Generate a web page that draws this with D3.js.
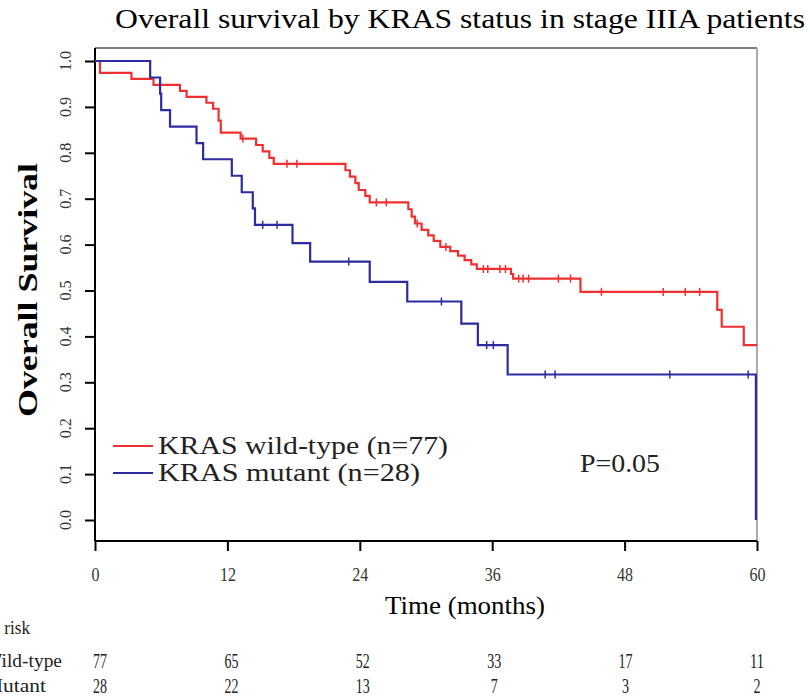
<!DOCTYPE html>
<html>
<head>
<meta charset="UTF-8">
<script src="https://d3js.org/d3.v7.min.js"></script>
<style>
  body { margin: 0; background: #fff; }
  svg { display: block; font-family: "Liberation Serif", "DejaVu Serif", serif; }
</style>
</head>
<body>
<svg width="810" height="699"></svg>
<script>
// KRAS wild-type (n=77): step times (months) and survival after each step
const wtTime = [0, 0.45, 3.3, 5.3, 7.7, 8.3, 10.1, 10.7, 11.2, 11.4, 13.2, 14.6, 15.2, 15.8, 16.2,
  22.7, 23.1, 23.6, 23.9, 24.5, 24.9, 28.4, 28.7, 29.0, 29.6, 30.2, 30.7, 31.3, 32.2, 32.9,
  33.5, 34.1, 34.6, 37.7, 37.9, 44.0, 56.4, 56.8, 58.8, 60];
const wtSurv = [1, 0.974, 0.961, 0.948, 0.935, 0.922, 0.909, 0.896, 0.870, 0.844, 0.831, 0.817, 0.803, 0.789, 0.776,
  0.762, 0.748, 0.734, 0.719, 0.706, 0.692, 0.677, 0.661, 0.646, 0.632, 0.620, 0.608, 0.595, 0.586, 0.576,
  0.566, 0.557, 0.547, 0.536, 0.526, 0.497, 0.458, 0.421, 0.381, 0.381];
const wtCensor = [13.4, 17.4, 18.3, 25.5, 26.4, 29.2, 31.8, 35.2, 35.6, 36.7, 37.2, 38.4, 38.8, 39.3,
  42.0, 43.1, 45.9, 51.5, 53.5, 54.8];

// KRAS mutant (n=28)
const mutTime = [0, 5.0, 5.9, 6.0, 6.8, 9.2, 9.8, 12.4, 13.3, 14.3, 14.5, 17.9, 19.5, 24.9, 28.3, 33.2, 34.7, 37.4, 59.9];
const mutSurv = [1, 0.964, 0.929, 0.893, 0.857, 0.821, 0.786, 0.750, 0.714, 0.679, 0.643, 0.603, 0.563, 0.519, 0.476, 0.428, 0.381, 0.317, 0];
const mutCensor = [15.2, 16.5, 23.0, 31.4, 35.5, 36.1, 40.8, 41.7, 52.1, 59.2];

// axes and risk table
const xTicks = [0, 12, 24, 36, 48, 60];
const yTicks = [0, 0.1, 0.2, 0.3, 0.4, 0.5, 0.6, 0.7, 0.8, 0.9, 1.0];
const riskWild = [77, 65, 52, 33, 17, 11];
const riskMut = [28, 22, 13, 7, 3, 2];

const svg = d3.select("svg");
const x = d3.scaleLinear().domain([0, 60]).range([95, 757]);
const y = d3.scaleLinear().domain([0, 1]).range([520, 61]);
const RED = "#f03030", BLUE = "#2c2ca0";

// title
svg.append("text")
  .attr("x", 460).attr("y", 28)
  .attr("text-anchor", "middle")
  .attr("font-size", 28)
  .attr("textLength", 690).attr("lengthAdjust", "spacingAndGlyphs")
  .text("Overall survival by KRAS status in stage IIIA patients");

// box
svg.append("line").attr("x1", 95).attr("x2", 757).attr("y1", 48).attr("y2", 48)
  .attr("stroke", "#555").attr("stroke-width", 1.5);
svg.append("line").attr("x1", 757).attr("x2", 757).attr("y1", 48).attr("y2", 541)
  .attr("stroke", "#aaa").attr("stroke-width", 2);

// y axis
const yAxis = svg.append("g").attr("transform", "translate(95,0)")
  .call(d3.axisLeft(y).tickValues(yTicks).tickSize(10).tickFormat(""));
yAxis.select(".domain").remove();
yAxis.selectAll(".tick line").attr("stroke", "#000").attr("stroke-width", 2);
svg.append("line").attr("x1", 95).attr("x2", 95).attr("y1", 48).attr("y2", 541)
  .attr("stroke", "#000").attr("stroke-width", 2);
svg.selectAll(".ylab").data(yTicks).enter().append("text")
  .attr("class", "ylab")
  .attr("transform", d => `translate(65,${y(d)}) rotate(-90)`)
  .attr("text-anchor", "middle").attr("dy", "0.35em")
  .attr("font-size", 17).attr("fill", "#333")
  .attr("textLength", 20).attr("lengthAdjust", "spacingAndGlyphs")
  .text(d3.format(".1f"));

// x axis
const xAxis = svg.append("g").attr("transform", "translate(0,541)")
  .call(d3.axisBottom(x).tickValues(xTicks).tickSize(10).tickPadding(17));
xAxis.select(".domain").attr("stroke", "#000").attr("stroke-width", 2).attr("d", "M95,0H757");
xAxis.selectAll(".tick line").attr("stroke", "#000").attr("stroke-width", 2);
xAxis.selectAll(".tick text")
  .attr("font-family", "Liberation Serif").attr("font-size", 18).attr("fill", "#333")
  .attr("textLength", d => String(d).length * 8).attr("lengthAdjust", "spacingAndGlyphs");

// axis titles
svg.append("text")
  .attr("x", 465).attr("y", 614).attr("text-anchor", "middle")
  .attr("font-size", 26).attr("textLength", 160).attr("lengthAdjust", "spacingAndGlyphs")
  .text("Time (months)");
svg.append("text")
  .attr("transform", "translate(37,290) rotate(-90)")
  .attr("text-anchor", "middle").attr("font-size", 27).attr("font-weight", "bold")
  .attr("textLength", 254).attr("lengthAdjust", "spacingAndGlyphs")
  .text("Overall Survival");

// curves
const line = d3.line().x(d => x(d[0])).y(d => y(d[1])).curve(d3.curveStepAfter);
function stepValue(times, surv, t) {
  const i = d3.bisectRight(times, t) - 1;
  return surv[Math.max(0, i)];
}
function drawCurve(times, surv, censor, color) {
  svg.append("path")
    .datum(d3.zip(times, surv))
    .attr("d", line)
    .attr("fill", "none").attr("stroke", color).attr("stroke-width", 2.2);
  svg.selectAll(null).data(censor).enter().append("line")
    .attr("x1", d => x(d)).attr("x2", d => x(d))
    .attr("y1", d => y(stepValue(times, surv, d)) - 4)
    .attr("y2", d => y(stepValue(times, surv, d)) + 4)
    .attr("stroke", color).attr("stroke-width", 1.5);
}
drawCurve(wtTime, wtSurv, wtCensor, RED);
drawCurve(mutTime, mutSurv, mutCensor, BLUE);

// legend
const legend = [
  { label: "KRAS wild-type (n=77)", color: RED, y: 446, w: 290 },
  { label: "KRAS mutant (n=28)", color: BLUE, y: 473, w: 262 }
];
legend.forEach(d => {
  svg.append("line").attr("x1", 113).attr("x2", 153).attr("y1", d.y).attr("y2", d.y)
    .attr("stroke", d.color).attr("stroke-width", 2.2);
  svg.append("text").attr("x", 158).attr("y", d.y).attr("dy", "0.33em")
    .attr("font-size", 25).attr("fill", "#222")
    .attr("textLength", d.w).attr("lengthAdjust", "spacingAndGlyphs")
    .text(d.label);
});
svg.append("text").attr("x", 580).attr("y", 463).attr("dy", "0.35em")
  .attr("font-size", 25).attr("fill", "#222")
  .attr("textLength", 80).attr("lengthAdjust", "spacingAndGlyphs")
  .text("P=0.05");

// numbers at risk
const xr = d3.scaleLinear().domain([0, 60]).range([100, 757]);
svg.append("text").attr("x", -17).attr("y", 628).attr("dy", "0.35em")
  .attr("font-size", 18).attr("fill", "#222")
  .attr("textLength", 47).attr("lengthAdjust", "spacingAndGlyphs")
  .text("At risk");
[["Wild-type", riskWild, 661, 78], ["Mutant", riskMut, 686, 62]].forEach(([name, vals, yy, w]) => {
  svg.append("text").attr("x", -16).attr("y", yy).attr("dy", "0.35em")
    .attr("font-size", 18).attr("fill", "#222")
    .attr("textLength", w).attr("lengthAdjust", "spacingAndGlyphs")
    .text(name);
  svg.selectAll(null).data(vals).enter().append("text")
    .attr("x", (d, i) => xr(xTicks[i])).attr("y", yy).attr("dy", "0.35em")
    .attr("text-anchor", "middle").attr("font-size", 20).attr("fill", "#222")
    .attr("textLength", d => String(d).length * 7).attr("lengthAdjust", "spacingAndGlyphs")
    .text(d => d);
});
</script>
</body>
</html>
